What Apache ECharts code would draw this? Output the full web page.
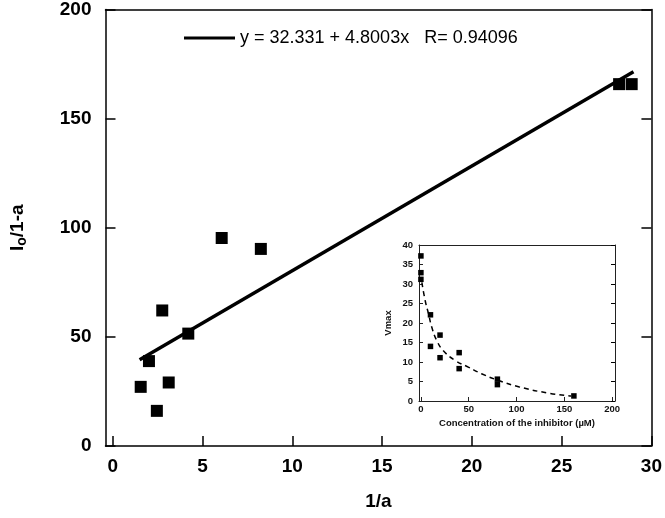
<!DOCTYPE html>
<html>
<head>
<meta charset="utf-8">
<script src="https://cdn.jsdelivr.net/npm/echarts@6/dist/echarts.min.js"></script>
<style>
    html, body { margin: 0; padding: 0; background: #fff; }
    #grafico { width: 665px; height: 518px; }
</style>
</head>
<body>
<div id="grafico"></div>
<script>
// main plot: 1/a vs Io/1-a
var mainX = [6.07, 8.25, 2.76, 4.21, 2.02, 1.56, 3.12, 2.46, 28.2, 28.9];
var mainY = [95.3, 90.3, 62.1, 51.5, 38.9, 27.1, 29.1, 16.1, 165.8, 165.8];
var fitX = [1.5, 29];
var fitY = [39.5, 171.5];
var fitName = "y = 32.331 + 4.8003x   R= 0.94096";
var mainXTicks = [0, 5, 10, 15, 20, 25, 30];

// inset: Vmax vs inhibitor concentration
var insetX = [0, 0, 0, 10, 10, 20, 20, 40, 40, 80, 80, 160];
var insetY = [37.2, 32.9, 31.2, 22.1, 14.0, 16.9, 11.1, 12.4, 8.3, 5.6, 4.2, 1.3];
var curveX = [1, 4.5, 8, 11.4, 16.6, 23.5, 35.7, 49.5, 63.4, 80.7, 103, 134, 157];
var curveY = [30.4, 25.7, 22.3, 18.9, 15.5, 12.9, 10.4, 8.7, 7.0, 5.3, 3.6, 2.0, 1.3];
var insetXTicks = [0, 50, 100, 150, 200];

var fonte = "'Liberation Sans', Arial, sans-serif";

function pares(xs, ys) {
    var out = [];
    for (var i = 0; i < xs.length; i++) {
        out.push([xs[i], ys[i]]);
    }
    return out;
}

function eixoMoldura(grid, pos, min, max, interval, tickLen) {
    return {
        type: "value", gridIndex: grid, position: pos,
        min: min, max: max, interval: interval,
        axisLine: { show: true, onZero: false, lineStyle: { color: grid === 0 ? "#000" : "#222", width: grid === 0 ? 1.5 : 1 } },
        axisTick: { show: tickLen > 0, inside: true, length: tickLen, lineStyle: { color: "#000", width: grid === 0 ? 1.5 : 1 } },
        axisLabel: { show: false },
        splitLine: { show: false }
    };
}

function desenhar() {
    var chart = echarts.init(document.getElementById("grafico"));
    var option = {
        animation: false,
        backgroundColor: "#fff",
        textStyle: { fontFamily: fonte },
        grid: [
            { left: 105, right: 11, top: 8, bottom: 72 },
            { left: 419, right: 50, top: 245, bottom: 117 }
        ],
        legend: {
            data: [fitName],
            left: 184, top: 29, padding: 0,
            icon: "rect", itemWidth: 51, itemHeight: 3,
            textStyle: { fontFamily: fonte, fontSize: 18, color: "#000" }
        },
        xAxis: [
            {
                type: "value", gridIndex: 0, position: "bottom",
                min: -0.4, max: 30,
                name: "1/a", nameLocation: "middle", nameGap: 46,
                nameTextStyle: { fontFamily: fonte, fontSize: 19, fontWeight: "bold", color: "#000" },
                axisLine: { onZero: false, lineStyle: { color: "#000", width: 1.5 } },
                axisTick: { inside: true, length: 10, customValues: mainXTicks, lineStyle: { color: "#000", width: 1.5 } },
                axisLabel: { customValues: mainXTicks, margin: 11, fontFamily: fonte, fontSize: 19, fontWeight: "bold", color: "#000" },
                splitLine: { show: false }
            },
            eixoMoldura(0, "top", -0.4, 30, null, 0),
            {
                type: "value", gridIndex: 1, position: "bottom",
                min: -2, max: 203,
                name: "Concentration of the inhibitor (µM)", nameLocation: "middle", nameGap: 17,
                nameTextStyle: { fontFamily: fonte, fontSize: 9.5, fontWeight: "bold", color: "#111" },
                axisLine: { onZero: false, lineStyle: { color: "#222", width: 1 } },
                axisTick: { inside: true, length: 4, customValues: insetXTicks, lineStyle: { color: "#222" } },
                axisLabel: { customValues: insetXTicks, margin: 3, fontFamily: fonte, fontSize: 9.5, fontWeight: "bold", color: "#111" },
                splitLine: { show: false }
            },
            eixoMoldura(1, "top", -2, 203, null, 0)
        ],
        yAxis: [
            {
                type: "value", gridIndex: 0, position: "left",
                min: 0, max: 200, interval: 50,
                name: "I{sub|o}/1-a", nameLocation: "middle", nameGap: 76,
                nameTextStyle: {
                    fontFamily: fonte, fontSize: 19, fontWeight: "bold", color: "#000",
                    rich: { sub: { fontFamily: fonte, fontSize: 14, fontWeight: "bold", color: "#000", padding: [10, 0, 0, 0] } }
                },
                axisLine: { onZero: false, lineStyle: { color: "#000", width: 1.5 } },
                axisTick: { inside: true, length: 10, lineStyle: { color: "#000", width: 1.5 } },
                axisLabel: { margin: 14, fontFamily: fonte, fontSize: 19, fontWeight: "bold", color: "#000" },
                splitLine: { show: false }
            },
            eixoMoldura(0, "right", 0, 200, 50, 10),
            {
                type: "value", gridIndex: 1, position: "left",
                min: 0, max: 40, interval: 5,
                name: "Vmax", nameLocation: "middle", nameGap: 26,
                nameTextStyle: { fontFamily: fonte, fontSize: 9.5, fontWeight: "bold", color: "#111" },
                axisLine: { onZero: false, lineStyle: { color: "#222", width: 1 } },
                axisTick: { inside: true, length: 4, lineStyle: { color: "#222" } },
                axisLabel: { margin: 6, fontFamily: fonte, fontSize: 9.5, fontWeight: "bold", color: "#111" },
                splitLine: { show: false }
            },
            eixoMoldura(1, "right", 0, 40, 5, 4)
        ],
        series: [
            {
                name: fitName, type: "line", xAxisIndex: 0, yAxisIndex: 0,
                data: pares(fitX, fitY), showSymbol: false, color: "#000",
                lineStyle: { color: "#000", width: 3.5 }
            },
            {
                type: "scatter", xAxisIndex: 0, yAxisIndex: 0,
                data: pares(mainX, mainY), symbol: "rect", symbolSize: 12,
                itemStyle: { color: "#000", opacity: 1 }
            },
            {
                type: "line", xAxisIndex: 2, yAxisIndex: 2,
                data: pares(curveX, curveY), showSymbol: false, smooth: true,
                lineStyle: { color: "#000", width: 1.5, type: [5, 4] }
            },
            {
                type: "scatter", xAxisIndex: 2, yAxisIndex: 2,
                data: pares(insetX, insetY), symbol: "rect", symbolSize: 5.5,
                itemStyle: { color: "#000", opacity: 1 }
            }
        ]
    };
    chart.setOption(option);
}

desenhar();
</script>
</body>
</html>
